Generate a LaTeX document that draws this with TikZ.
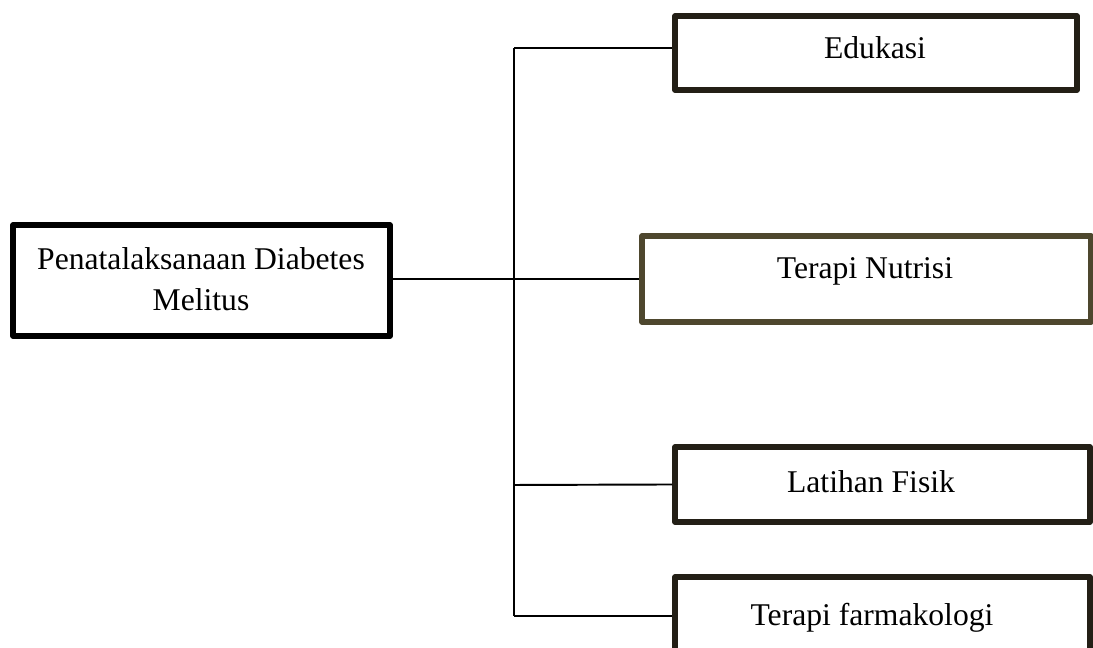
\documentclass[tikz,border=0pt]{standalone}
\usepackage{fontspec}
\setmainfont{Liberation Serif}
\definecolor{boxdark}{RGB}{35,31,22}
\definecolor{boxolive}{RGB}{78,71,46}
\begin{document}
\begin{tikzpicture}[line join=round,
    kotak/.style={draw=boxdark,line width=1.5pt,minimum width=#1,inner sep=0pt},
    teks/.style={font=\fontsize{9}{11.6}\selectfont,align=center,inner sep=0pt},
    garis/.style={line width=0.55pt}]
\path[use as bounding box,clip](0,0)rectangle(10.93,-6.48);
\node[kotak=3.77cm,draw=black,line width=1.6pt,minimum height=1.11cm](main)at(2.015,-2.805){};
\node[teks](maint)at(2.01,-2.79){Penatalaksanaan Diabetes\\Melitus};
\node[kotak=4.02cm,minimum height=.74cm](edu)at(8.76,-.53){};
\node[teks,anchor=base](edut)at(8.75,-.59){Edukasi};
\node[kotak=4.49cm,draw=boxolive,minimum height=.86cm](nut)at(8.665,-2.79){};
\node[teks,anchor=base](nutt)at(8.65,-2.79){Terapi Nutrisi};
\node[kotak=4.15cm,minimum height=.75cm](lat)at(8.825,-4.845){};
\node[teks,anchor=base](latt)at(8.71,-4.93){Latihan Fisik};
\node[kotak=4.15cm,minimum height=.75cm](far)at(8.825,-6.145){};
\node[teks,anchor=base](fart)at(8.72,-6.26){Terapi farmakologi};
\coordinate(atas)at(5.14,-.48);
\coordinate(bawah)at(5.14,-6.16);
\draw[garis](atas)--(bawah);
\draw[garis](atas)--(atas-|edu.west);
\draw[garis](nut.west-|main.east)--(nut.west);
\draw[garis](5.14,-4.85)--(lat.west);
\draw[garis](bawah)--(bawah-|far.west);
\end{tikzpicture}
\end{document}
